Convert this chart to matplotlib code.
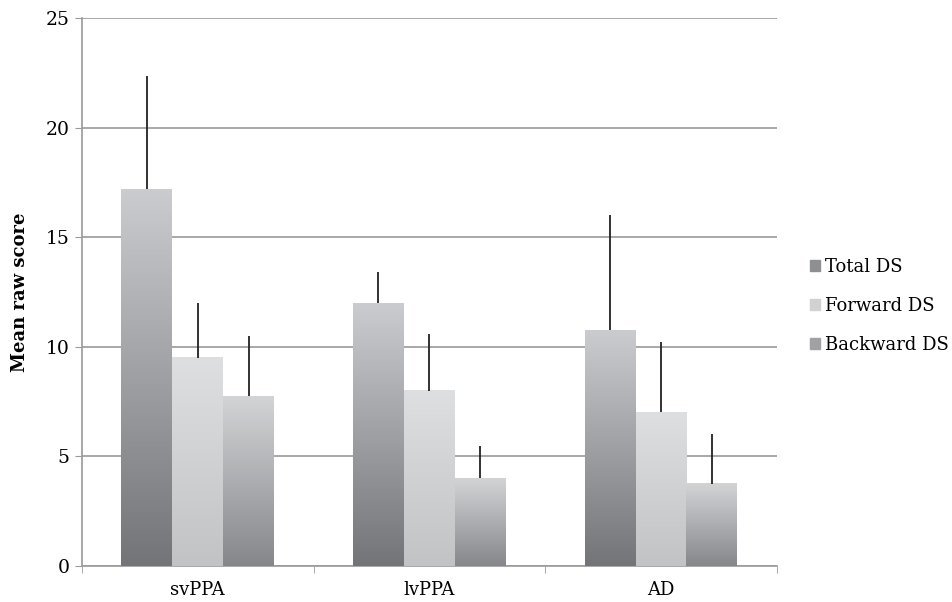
import matplotlib
matplotlib.use('Agg')
import matplotlib.pyplot as plt
import matplotlib.patches as mpatches
from matplotlib.colors import LinearSegmentedColormap
import numpy as np

plt.rcParams['font.family'] = ['DejaVu Serif']

# Data
groups = ['svPPA', 'lvPPA', 'AD']
series = ['Total DS', 'Forward DS', 'Backward DS']
total_ds = [17.2, 12.0, 10.75]
forward_ds = [9.5, 8.0, 7.0]
backward_ds = [7.75, 4.0, 3.75]
total_err = [5.15, 1.4, 5.25]
forward_err = [2.5, 2.6, 3.2]
backward_err = [2.75, 1.45, 2.25]
yticks = [0, 5, 10, 15, 20, 25]

# gradient colours (top, bottom) per series
GRADS = [('#cbcccf', '#737478'),
         ('#dedfe1', '#c2c3c5'),
         ('#d3d4d6', '#86878b')]
LEGEND_COLORS = ['#8e8f93', '#d0d1d3', '#a0a1a5']
GRID = '#9a9a9a'

fig, ax = plt.subplots(figsize=(9.52, 6.02), dpi=100)
fig.subplots_adjust(left=0.086, right=0.816, top=0.97, bottom=0.06)

x = np.arange(len(groups))
width = 0.22
offsets = [-width, 0, width]
values = [total_ds, forward_ds, backward_ds]
errors = [total_err, forward_err, backward_err]

for s, (vals, errs, off, (top, bot)) in enumerate(zip(values, errors, offsets, GRADS)):
    cmap = LinearSegmentedColormap.from_list('g%d' % s, [bot, top])
    bars = ax.bar(x + off, vals, width=width, color='none', edgecolor='none', zorder=3)
    for b in bars:
        x0, y0 = b.get_x(), b.get_y()
        w, h = b.get_width(), b.get_height()
        grad = np.linspace(0, 1, 256).reshape(-1, 1)
        ax.imshow(grad, cmap=cmap, origin='lower', aspect='auto',
                  extent=(x0, x0 + w, y0, y0 + h), zorder=3)
    ax.errorbar(x + off, vals, yerr=[np.zeros(len(errs)), errs], fmt='none',
                ecolor='#222222', elinewidth=1.3, capsize=0, zorder=4)

ax.set_xlim(-0.5, len(groups) - 0.5)
ax.set_ylim(0, 25)

ax.set_yticks(yticks)
ax.yaxis.grid(True, color=GRID, linewidth=1.2)
ax.set_axisbelow(True)
ax.tick_params(axis='y', length=5, color=GRID, labelsize=13.5, pad=4)

ax.set_xticks(x)
ax.set_xticklabels(groups, fontsize=13)
ax.set_xticks(np.arange(len(groups) + 1) - 0.5, minor=True)
ax.tick_params(axis='x', which='major', length=0, pad=11)
ax.tick_params(axis='x', which='minor', length=5, color=GRID)

for side in ['top', 'right']:
    ax.spines[side].set_visible(False)
for side in ['left', 'bottom']:
    ax.spines[side].set_color(GRID)
    ax.spines[side].set_linewidth(1.2)

ax.set_ylabel('Mean raw score', fontsize=13, fontweight='bold', labelpad=12)

handles = [mpatches.Patch(color=c, label=l) for c, l in zip(LEGEND_COLORS, series)]
fig.legend(handles=handles, loc='center left', bbox_to_anchor=(0.851, 0.492),
           frameon=False, fontsize=13, handlelength=0.55, handleheight=0.55,
           handletextpad=0.3, labelspacing=1.15, borderpad=0, borderaxespad=0)

fig.savefig('out.png', dpi=100)
